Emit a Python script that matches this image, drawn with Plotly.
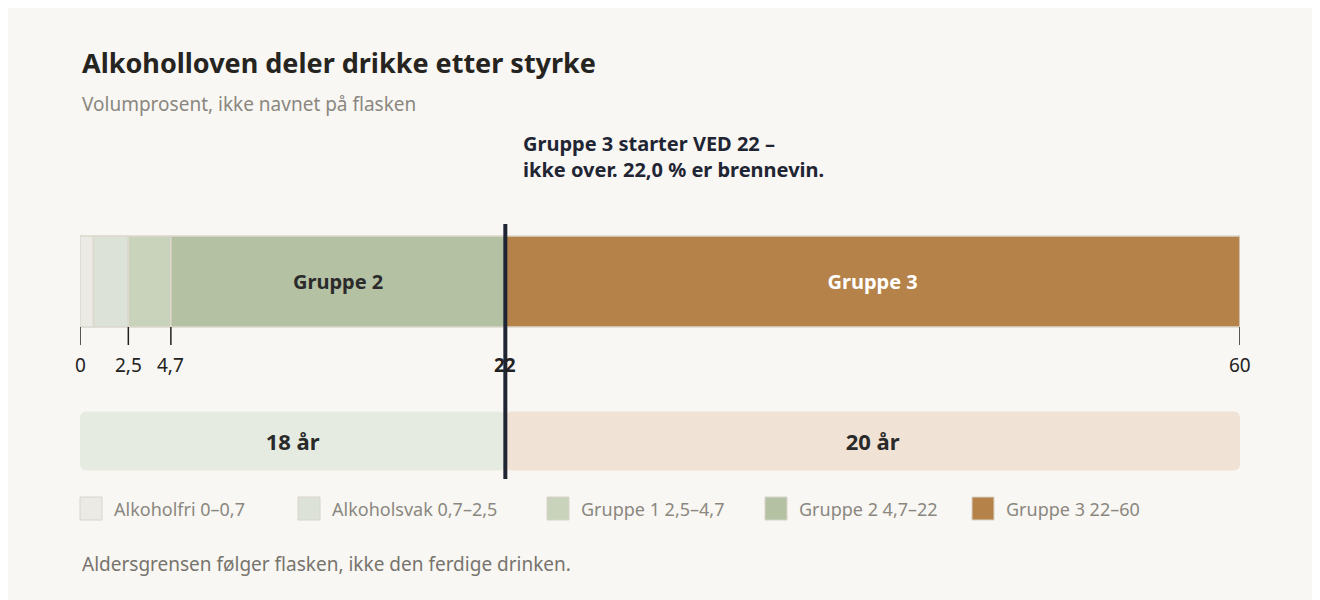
import plotly.graph_objects as go

# segments of the strength scale (vol %)
seg_names = ["Alkoholfri", "Alkoholsvak", "Gruppe 1", "Gruppe 2", "Gruppe 3"]
seg_start = [0, 0.7, 2.5, 4.7, 22]
seg_end = [0.7, 2.5, 4.7, 22, 60]
seg_ranges = ["0–0,7", "0,7–2,5", "2,5–4,7", "4,7–22", "22–60"]
seg_colors = ["#ebeae4", "#dde2d8", "#c9d3bc", "#b4c1a3", "#b5834a"]
seg_inner = ["", "", "", "<b>Gruppe 2</b>", "<b>Gruppe 3</b>"]

tick_vals = [0, 2.5, 4.7, 22, 60]
tick_text = ["0", "2,5", "4,7", "22", "60"]

age_start = [0, 22]
age_end = [22, 60]
age_text = ["18 år", "20 år"]
age_colors = ["#e6ebe1", "#f0e2d4"]

threshold = 22
BG = "#f9f7f3"
FONT = "Noto Sans"
OFF = 8  # page body margin compensation

fig = go.Figure()

# strength bar
fig.add_trace(go.Bar(
    orientation="h", y=[281.5] * 5, base=seg_start,
    x=[e - s for s, e in zip(seg_start, seg_end)], width=91,
    marker=dict(color=seg_colors, line=dict(color="#dcd8cd", width=1.5)),
    text=seg_inner, textposition="inside", insidetextanchor="middle",
    textfont=dict(size=20, color=["#333", "#333", "#333", "#2b2b2b", "white"], family=FONT),
    hoverinfo="skip", showlegend=False,
))

# age bands
fig.add_trace(go.Bar(
    orientation="h", y=[441, 441], base=age_start,
    x=[e - s for s, e in zip(age_start, age_end)], width=59,
    marker=dict(color=age_colors, line=dict(width=0), cornerradius=6),
    text=[f"<b>{t}</b>" for t in age_text], textposition="inside", insidetextanchor="middle",
    textfont=dict(size=22, color="#2a2a2a", family=FONT),
    hoverinfo="skip", showlegend=False,
))

shapes = []
annotations = []
for v, t in zip(tick_vals, tick_text):
    shapes.append(dict(type="line", x0=v, x1=v, y0=327, y1=345, xref="x", yref="y",
                       line=dict(color="#222", width=1.5)))
    bold = v == threshold
    annotations.append(dict(x=v, y=365, xref="x", yref="y", showarrow=False,
                            text=f"<b>{t}</b>" if bold else t,
                            font=dict(size=19, color="#222", family=FONT)))

# threshold line
shapes.append(dict(type="line", x0=threshold, x1=threshold, y0=224, y1=479, xref="x", yref="y",
                   line=dict(color="#1f2533", width=4)))

# legend (manual)
leg_x = [80, 298, 547, 765, 972]
for px, name, rng, col in zip(leg_x, seg_names, seg_ranges, seg_colors):
    shapes.append(dict(type="rect", xref="paper", yref="y",
                       x0=(px - 80) / 1160, x1=(px - 80 + 22) / 1160, y0=497, y1=520,
                       fillcolor=col, line=dict(color="#d8d4ca", width=1)))
    annotations.append(dict(x=(px - 80 + 32) / 1160, y=509, xref="paper", yref="y",
                            xanchor="left", showarrow=False, text=f"{name} {rng}",
                            font=dict(size=18, color="#8a8780", family=FONT)))

annotations += [
    dict(x=0, y=62, xref="paper", yref="y", xanchor="left", showarrow=False,
         text="<b>Alkoholloven deler drikke etter styrke</b>",
         font=dict(size=27, color="#262420", family=FONT)),
    dict(x=0, y=104, xref="paper", yref="y", xanchor="left", showarrow=False,
         text="Volumprosent, ikke navnet på flasken",
         font=dict(size=19, color="#8a8780", family=FONT)),
    dict(x=(521 - 80) / 1160, y=156, xref="paper", yref="y", xanchor="left", showarrow=False,
         align="left", text="<b>Gruppe 3 starter VED 22 –<br>ikke over. 22,0 % er brennevin.</b>",
         font=dict(size=20, color="#1f2533", family=FONT)),
    dict(x=0, y=564, xref="paper", yref="y", xanchor="left", showarrow=False,
         text="Aldersgrensen følger flasken, ikke den ferdige drinken.",
         font=dict(size=19, color="#77746d", family=FONT)),
]

fig.update_layout(
    width=1320, height=600, paper_bgcolor=BG, plot_bgcolor=BG,
    margin=dict(l=80 - OFF, r=80 + OFF, t=0, b=0), barmode="overlay",
    xaxis=dict(range=[0, 60], visible=False, fixedrange=True),
    yaxis=dict(range=[600 + OFF, OFF], visible=False, fixedrange=True),
    shapes=shapes, annotations=annotations, font=dict(family=FONT),
)

fig.write_html("out.html")
